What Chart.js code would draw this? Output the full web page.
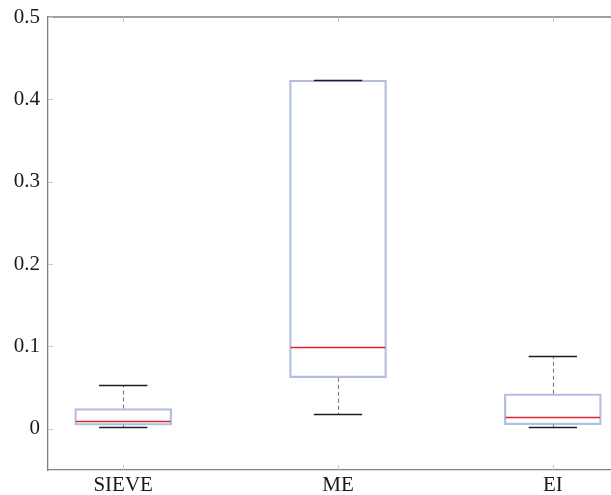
<!DOCTYPE html>
<html>
<head>
<meta charset="utf-8">
<script src="https://cdn.jsdelivr.net/npm/chart.js@4/dist/chart.umd.min.js"></script>
<style>
html,body{margin:0;padding:0;background:#fff;overflow:hidden;}
#wrap{width:611px;height:495px;overflow:hidden;position:relative;}
#box{width:630px;height:495px;position:absolute;left:0;top:0;}
</style>
</head>
<body>
<div id="wrap"><div id="box"><canvas id="c"></canvas></div></div>
<script>
const categories = ['SIEVE', 'ME', 'EI'];
const whiskerLow  = [0.002, 0.018, 0.002];
const q1          = [0.0045, 0.062, 0.005];
const median      = [0.0093, 0.099, 0.0142];
const q3          = [0.0247, 0.4234, 0.0425];
const whiskerHigh = [0.053, 0.4234, 0.0884];
const yTicks = [0, 0.1, 0.2, 0.3, 0.4, 0.5];
const xTicks = [1, 2, 3];

const BOX_HALF = 0.225;   // half box width in x units
const CAP_HALF = 0.1125;  // half whisker cap width in x units

const boxPlugin = {
  id: 'boxPlugin',
  afterDatasetsDraw(chart) {
    const ctx = chart.ctx, xs = chart.scales.x, ys = chart.scales.y, ca = chart.chartArea;
    ctx.save();
    categories.forEach((c, i) => {
      const x = Math.round(xs.getPixelForValue(xTicks[i])) + 0.5;
      ctx.strokeStyle = '#7a7a7a';
      ctx.lineWidth = 1.1;
      ctx.setLineDash([4, 3]);
      ctx.beginPath();
      ctx.moveTo(x, ys.getPixelForValue(q3[i]));
      ctx.lineTo(x, ys.getPixelForValue(whiskerHigh[i]));
      ctx.moveTo(x, ys.getPixelForValue(q1[i]));
      ctx.lineTo(x, ys.getPixelForValue(whiskerLow[i]));
      ctx.stroke();
      ctx.setLineDash([]);
      const xl = xs.getPixelForValue(xTicks[i] - CAP_HALF), xr = xs.getPixelForValue(xTicks[i] + CAP_HALF);
      ctx.strokeStyle = '#1c1c2a';
      ctx.lineWidth = 1.3;
      ctx.beginPath();
      [whiskerHigh[i], whiskerLow[i]].forEach(v => {
        const y = Math.round(ys.getPixelForValue(v)) + 0.5;
        ctx.moveTo(xl, y); ctx.lineTo(xr, y);
      });
      ctx.stroke();
      const bl = xs.getPixelForValue(xTicks[i] - BOX_HALF) + 1, br = xs.getPixelForValue(xTicks[i] + BOX_HALF) - 1;
      ctx.strokeStyle = '#d9262b';
      ctx.lineWidth = 1.3;
      ctx.beginPath();
      const ym = Math.round(ys.getPixelForValue(median[i])) + 0.5;
      ctx.moveTo(bl, ym); ctx.lineTo(br, ym);
      ctx.stroke();
    });
    ctx.strokeStyle = '#808080';
    ctx.lineWidth = 1.3;
    ctx.beginPath();
    ctx.moveTo(ca.left, ca.top); ctx.lineTo(ca.right, ca.top);
    ctx.stroke();
    ctx.strokeStyle = '#c8c8c8';
    ctx.lineWidth = 1;
    ctx.beginPath();
    xTicks.forEach(v => {
      const x = Math.round(xs.getPixelForValue(v)) + 0.5;
      ctx.moveTo(x, ca.bottom); ctx.lineTo(x, ca.bottom - 5);
      ctx.moveTo(x, ca.top); ctx.lineTo(x, ca.top + 5);
    });
    yTicks.forEach(v => {
      const y = Math.round(ys.getPixelForValue(v)) + 0.5;
      ctx.moveTo(ca.left, y); ctx.lineTo(ca.left + 5, y);
    });
    ctx.stroke();
    ctx.restore();
  }
};

new Chart(document.getElementById('c'), {
  type: 'bar',
  data: {
    datasets: [{
      data: categories.map((c, i) => ({ x: xTicks[i], y: [q1[i], q3[i]] })),
      backgroundColor: 'rgba(0,0,0,0)',
      borderColor: '#b3bee0',
      borderWidth: 1.6,
      borderSkipped: false,
      barThickness: 97
    }]
  },
  options: {
    responsive: true,
    maintainAspectRatio: false,
    animation: false,
    layout: { padding: { top: 17, right: 2, left: 0, bottom: 0 } },
    plugins: { legend: { display: false }, tooltip: { enabled: false } },
    scales: {
      x: {
        type: 'linear',
        offset: false,
        min: 0.65,
        max: 3.35,
        afterBuildTicks: s => { s.ticks = xTicks.map(v => ({ value: v })); },
        afterFit: s => { s.height = 25; },
        ticks: {
          callback: (v) => categories[xTicks.indexOf(v)],
          font: { family: 'Liberation Serif', size: 21 },
          color: '#1a1a1a',
          padding: 3,
          maxRotation: 0
        },
        grid: { display: false, drawTicks: false, offset: false },
        border: { display: true, color: '#808080', width: 1.3 }
      },
      y: {
        min: -0.05,
        max: 0.5,
        afterBuildTicks: s => { s.ticks = yTicks.map(v => ({ value: v })); },
        afterFit: s => { s.width = 48; s.paddingTop = 0; s.paddingBottom = 0; },
        ticks: {
          callback: v => String(v),
          font: { family: 'Liberation Serif', size: 21 },
          color: '#1a1a1a',
          padding: 8
        },
        grid: { display: false, drawTicks: false },
        border: { display: true, color: '#808080', width: 1.3 }
      }
    }
  },
  plugins: [boxPlugin]
});
</script>
</body>
</html>
